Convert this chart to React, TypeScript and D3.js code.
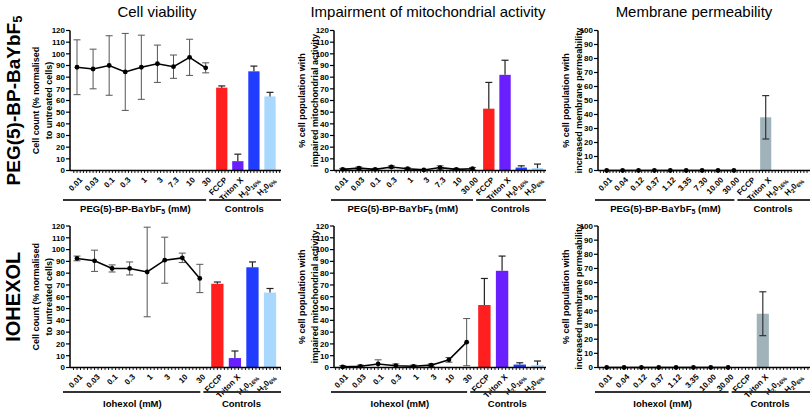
import React from 'react';
import * as d3 from 'd3';

// concentrations (tick labels)
const pegConc = ['0.01', '0.03', '0.1', '0.3', '1', '3', '7.3', '10', '30'];
const pegConcMito = ['0.01', '0.03', '0.1', '0.3', '1', '3', '7.3', '10', '30.00'];
const pegConcMemb = ['0.01', '0.04', '0.12', '0.37', '1.12', '3.35', '7.30', '10.00', '30.00'];
const iohConc = ['0.01', '0.03', '0.1', '0.3', '1', '3', '10', '30'];
const iohConcMemb = ['0.01', '0.04', '0.12', '0.37', '1.12', '3.35', '10.00', '30.00'];
const controls = ['FCCP', 'Triton X', 'H2O16%', 'H2O6%'];

// cell viability
const viaPegMean = [88.5, 87, 90, 84.5, 88.5, 91.5, 89, 97, 88];
const viaPegErr = [23.5, 17, 25.5, 33, 27.5, 16, 10, 15.5, 4.3];
const viaIohMean = [92.5, 90.5, 84, 84, 81, 91, 93, 75.5];
const viaIohErr = [2, 9, 3, 5.5, 38, 19.5, 4, 12];
const viaCtrlMean = [71, 8, 85, 63.5];
const viaCtrlErr = [1.5, 6, 4.5, 3.5];

// mitochondrial impairment
const mitoPegMean = [1, 2, 1, 3, 1.5, 0.5, 2.5, 1, 1.5];
const mitoPegErr = [0.8, 1, 0.8, 1, 0.8, 0.5, 1.5, 0.8, 1];
const mitoIohMean = [0.5, 1, 3, 1.5, 1, 2, 6.5, 21.5];
const mitoIohErr = [1, 1, 3.5, 1.5, 1, 1, 2, 20];
const mitoCtrlMean = [53, 82, 2.5, 2];
const mitoCtrlErr = [22.5, 12.5, 1.5, 3.5];

// membrane permeability
const membPegMean = [0, 0, 0, 0, 0, 0, 0, 0, 0];
const membIohMean = [0, 0, 0, 0, 0, 0, 0, 0];
const membCtrlMean = [0, 38, 0, 0];
const membCtrlErr = [0, 15.5, 0, 0];

const ctrlColors = ['#ff1f1f', '#6a1fff', '#1f3cff', '#a9d8ff'];
const membColor = '#a0b3bb';

const FONT = '"Liberation Sans", Arial, sans-serif';

const rows = [
  { yTop: 30.5, yBot: 170.5, lineY: 200, textY: 211.5, label: 'peg' },
  { yTop: 226, yBot: 367.5, lineY: 392, textY: 406.5, label: 'ioh' },
];

const cols = [
  { ax: 70, p0: 77, p1: 270, end: 281, gStart: 63, tx: [36, 49], max: 120 },
  { ax: 334, p0: 342.7, p1: 537.5, end: 546, gStart: 331, tx: [302, 315], max: 120 },
  { ax: 598, p0: 606.7, p1: 797.5, end: 810, gStart: 595, tx: [566, 579], max: 100 },
];

const titles = ['Cell viability', 'Impairment of mitochondrial activity', 'Membrane permeability'];
const yTitles = [
  ['Cell count (% normalised', 'to untreated cells)'],
  ['% cell population with', 'impaired mitochondrial activity'],
  ['% cell population with', 'increased membrane permeability'],
];

function LabelText({ s }: { s: string }) {
  if (s.startsWith('H2O')) {
    return (
      <>
        H<tspan dy={2} fontSize={6}>2</tspan>
        <tspan dy={-2}>0</tspan>
        <tspan dy={2} fontSize={6}>{s.slice(3)}</tspan>
      </>
    );
  }
  return <>{s}</>;
}

function Panel({ col, row, conc, mean, err, cMean, cErr, colors, twoSided }: any) {
  const c = cols[col];
  const r = rows[row];
  const cats = [...conc, ...controls];
  const x = d3.scalePoint<string>().domain(cats).range([c.p0, c.p1]);
  const step = x.step();
  const y = d3.scaleLinear().domain([0, c.max]).range([r.yBot, r.yTop]);
  const idx = d3.scaleLinear().domain([0, cats.length - 1]).range([c.p0, c.p1]);
  const minor = d3.range(-0.4, (c.end - c.p0) / step, 0.2).map((i) => idx(i)).filter((v) => v > c.ax + 1 && v < c.end);
  const line = d3.line<number>().x((_, i) => x(conc[i])!).y((d) => y(d));
  const bw = step * 0.7;
  const split = x(conc[conc.length - 1])! + 2;
  const cap = 3.5;
  return (
    <g fontFamily={FONT}>
      {/* bars */}
      {controls.map((k, i) =>
        cMean[i] > 0 ? (
          <rect key={k} x={x(k)! - bw / 2} y={y(cMean[i])} width={bw} height={y(0) - y(cMean[i])} fill={colors[i]} />
        ) : null
      )}
      {controls.map((k, i) => {
        if (!cErr[i]) return null;
        const top = y(cMean[i] + cErr[i]);
        const bot = twoSided ? y(cMean[i] - cErr[i]) : y(cMean[i]);
        const cx = x(k)!;
        return (
          <g key={k} stroke={twoSided ? '#333' : '#222'} strokeWidth={1.2}>
            <line x1={cx} x2={cx} y1={top} y2={bot} />
            <line x1={cx - cap} x2={cx + cap} y1={top} y2={top} />
            {twoSided && <line x1={cx - cap} x2={cx + cap} y1={bot} y2={bot} />}
          </g>
        );
      })}
      {/* error bars of series */}
      {err &&
        conc.map((k: string, i: number) => {
          const cx = x(k)!;
          const top = y(mean[i] + err[i]);
          const bot = y(Math.max(0, mean[i] - err[i]));
          return (
            <g key={k} stroke="#555" strokeWidth={1}>
              <line x1={cx} x2={cx} y1={top} y2={bot} />
              <line x1={cx - cap} x2={cx + cap} y1={top} y2={top} />
              <line x1={cx - cap} x2={cx + cap} y1={bot} y2={bot} />
            </g>
          );
        })}
      <path d={line(mean) || ''} fill="none" stroke="#000" strokeWidth={1.6} />
      {conc.map((k: string, i: number) => (
        <circle key={k} cx={x(k)} cy={y(mean[i])} r={2.4} fill="#000" />
      ))}
      {/* y axis */}
      <line x1={c.ax} x2={c.ax} y1={r.yTop} y2={r.yBot} stroke="#000" strokeWidth={1.5} />
      {y.ticks(c.max / 10).map((t) => (
        <g key={t}>
          <line x1={c.ax - 4} x2={c.ax} y1={y(t)} y2={y(t)} stroke="#000" strokeWidth={1.2} />
          <text x={c.ax - 5} y={y(t)} dy="0.35em" textAnchor="end" fontSize={8} fontWeight="bold">
            {t}
          </text>
        </g>
      ))}
      {/* x axis */}
      <line x1={c.ax} x2={c.end} y1={r.yBot} y2={r.yBot} stroke="#000" strokeWidth={1.5} />
      {minor.map((v, i) => (
        <line key={i} x1={v} x2={v} y1={r.yBot} y2={r.yBot + 2.5} stroke="#000" strokeWidth={0.9} />
      ))}
      {cats.map((k) => (
        <text
          key={k}
          transform={`translate(${x(k)! + 2},${r.yBot + 6}) rotate(-45)`}
          textAnchor="end"
          dy="0.7em"
          fontSize={8}
          fontWeight="bold"
        >
          <LabelText s={k} />
        </text>
      ))}
      {/* group lines */}
      <line x1={c.gStart} x2={split - 1.5} y1={r.lineY} y2={r.lineY} stroke="#333" strokeWidth={2} />
      <line x1={split + 1.5} x2={c.end} y1={r.lineY} y2={r.lineY} stroke="#333" strokeWidth={2} />
      <text x={(c.gStart + split) / 2} y={r.textY} textAnchor="middle" fontSize={9.5} fontWeight="bold">
        {r.label === 'peg' ? (
          <>
            PEG(5)-BP-BaYbF<tspan dy={2.5} fontSize={7}>5</tspan>
            <tspan dy={-2.5}> (mM)</tspan>
          </>
        ) : (
          'Iohexol (mM)'
        )}
      </text>
      <text x={(split + c.end) / 2} y={r.textY} textAnchor="middle" fontSize={9.5} fontWeight="bold">
        Controls
      </text>
      {/* y title */}
      {yTitles[col].map((t, i) => (
        <text
          key={i}
          transform={`translate(${c.tx[i]},${(r.yTop + r.yBot) / 2}) rotate(-90)`}
          textAnchor="middle"
          dominantBaseline="central"
          fontSize={9}
          fontWeight="bold"
        >
          {t}
        </text>
      ))}
    </g>
  );
}

export default function App() {
  return (
    <svg width={810} height={412} style={{ position: 'absolute', left: 0, top: 0, background: '#fff' }}>
      {titles.map((t, i) => (
        <text key={t} x={[157, 428, 694][i]} y={17} textAnchor="middle" fontSize={15} fontFamily={FONT}>
          {t}
        </text>
      ))}
      <text
        transform={`translate(13,${(rows[0].yTop + rows[0].yBot) / 2}) rotate(-90)`}
        textAnchor="middle"
        dominantBaseline="central"
        fontSize={19}
        fontWeight="bold"
        fontFamily={FONT}
      >
        PEG(5)-BP-BaYbF<tspan dy={4} fontSize={13}>5</tspan>
      </text>
      <text
        transform={`translate(13,${(rows[1].yTop + rows[1].yBot) / 2}) rotate(-90)`}
        textAnchor="middle"
        dominantBaseline="central"
        fontSize={20}
        fontWeight="bold"
        fontFamily={FONT}
      >
        IOHEXOL
      </text>
      <Panel col={0} row={0} conc={pegConc} mean={viaPegMean} err={viaPegErr} cMean={viaCtrlMean} cErr={viaCtrlErr} colors={ctrlColors} />
      <Panel col={1} row={0} conc={pegConcMito} mean={mitoPegMean} err={mitoPegErr} cMean={mitoCtrlMean} cErr={mitoCtrlErr} colors={ctrlColors} />
      <Panel col={2} row={0} conc={pegConcMemb} mean={membPegMean} err={null} cMean={membCtrlMean} cErr={membCtrlErr} colors={controls.map(() => membColor)} twoSided />
      <Panel col={0} row={1} conc={iohConc} mean={viaIohMean} err={viaIohErr} cMean={viaCtrlMean} cErr={viaCtrlErr} colors={ctrlColors} />
      <Panel col={1} row={1} conc={iohConc} mean={mitoIohMean} err={mitoIohErr} cMean={mitoCtrlMean} cErr={mitoCtrlErr} colors={ctrlColors} />
      <Panel col={2} row={1} conc={iohConcMemb} mean={membIohMean} err={null} cMean={membCtrlMean} cErr={membCtrlErr} colors={controls.map(() => membColor)} twoSided />
    </svg>
  );
}
